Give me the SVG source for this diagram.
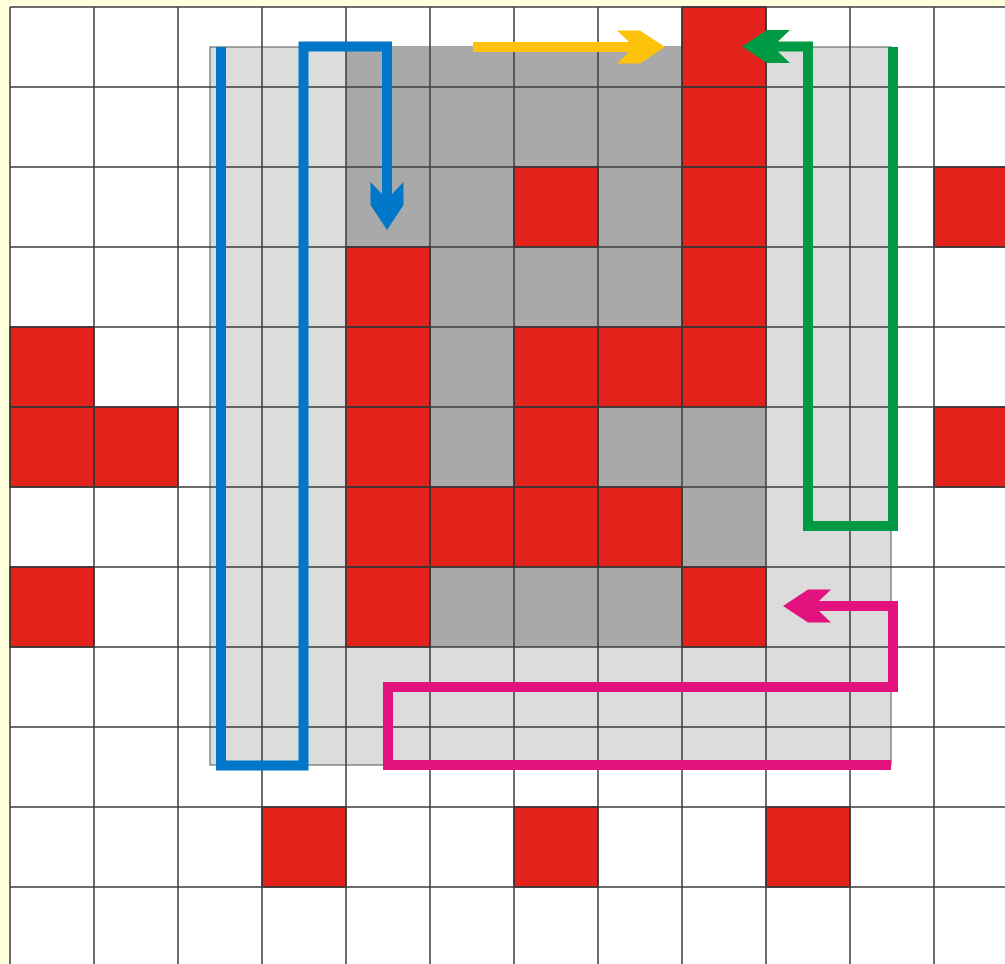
<svg xmlns="http://www.w3.org/2000/svg" width="1005" height="964" viewBox="0 0 1005 964">
<style>
.bg{fill:#FFFFDC}
.paper{fill:#FFFFFF}
.lg{fill:#DCDCDC;stroke:#6E6E6E;stroke-width:1.2}
.dg{fill:#A9A9A9}
.red{fill:#E3231B;stroke:#4A1A14;stroke-width:1.5}
.grid line{stroke:#3C3C3C;stroke-width:1.5}
.path{fill:none;stroke-width:10;stroke-linejoin:miter;stroke-linecap:butt}
</style>
<defs>
<path id="head" d="M-48,-16.5 L-25,-16.5 L0,0 L-25,16.5 L-48,16.5 L-36,5 L-36,-5 Z"/>
<marker id="mBlue" viewBox="-50 -18 52 36" refX="-32" refY="0" markerWidth="52" markerHeight="36" markerUnits="userSpaceOnUse" orient="auto"><use href="#head" fill="#0077C8"/></marker>
<marker id="mYellow" viewBox="-50 -18 52 36" refX="-32" refY="0" markerWidth="52" markerHeight="36" markerUnits="userSpaceOnUse" orient="auto"><use href="#head" fill="#FFC20A"/></marker>
<marker id="mGreen" viewBox="-50 -18 52 36" refX="-32" refY="0" markerWidth="52" markerHeight="36" markerUnits="userSpaceOnUse" orient="auto"><use href="#head" fill="#009A44"/></marker>
<marker id="mPink" viewBox="-50 -18 52 36" refX="-32" refY="0" markerWidth="52" markerHeight="36" markerUnits="userSpaceOnUse" orient="auto"><use href="#head" fill="#E2127F"/></marker>
</defs>
<rect class="bg" x="0" y="0" width="1005" height="964"/>
<rect class="paper" x="10" y="7" width="995" height="957"/>
<g id="region-light">
<rect class="lg" x="210" y="47" width="681" height="718"/>
</g>
<g id="region-dark">
<rect class="dg" x="346" y="47" width="420" height="600"/>
</g>
<g id="red-cells">
<g id="cell-c8r0"><rect class="red" x="682" y="7" width="84" height="80"/></g>
<g id="cell-c8r1"><rect class="red" x="682" y="87" width="84" height="80"/></g>
<g id="cell-c8r2"><rect class="red" x="682" y="167" width="84" height="80"/></g>
<g id="cell-c8r3"><rect class="red" x="682" y="247" width="84" height="80"/></g>
<g id="cell-c8r4"><rect class="red" x="682" y="327" width="84" height="80"/></g>
<g id="cell-c6r2"><rect class="red" x="514" y="167" width="84" height="80"/></g>
<g id="cell-c11r2"><rect class="red" x="934" y="167" width="84" height="80"/></g>
<g id="cell-c4r3"><rect class="red" x="346" y="247" width="84" height="80"/></g>
<g id="cell-c0r4"><rect class="red" x="10" y="327" width="84" height="80"/></g>
<g id="cell-c4r4"><rect class="red" x="346" y="327" width="84" height="80"/></g>
<g id="cell-c6r4"><rect class="red" x="514" y="327" width="84" height="80"/></g>
<g id="cell-c7r4"><rect class="red" x="598" y="327" width="84" height="80"/></g>
<g id="cell-c0r5"><rect class="red" x="10" y="407" width="84" height="80"/></g>
<g id="cell-c1r5"><rect class="red" x="94" y="407" width="84" height="80"/></g>
<g id="cell-c4r5"><rect class="red" x="346" y="407" width="84" height="80"/></g>
<g id="cell-c6r5"><rect class="red" x="514" y="407" width="84" height="80"/></g>
<g id="cell-c11r5"><rect class="red" x="934" y="407" width="84" height="80"/></g>
<g id="cell-c4r6"><rect class="red" x="346" y="487" width="84" height="80"/></g>
<g id="cell-c5r6"><rect class="red" x="430" y="487" width="84" height="80"/></g>
<g id="cell-c6r6"><rect class="red" x="514" y="487" width="84" height="80"/></g>
<g id="cell-c7r6"><rect class="red" x="598" y="487" width="84" height="80"/></g>
<g id="cell-c0r7"><rect class="red" x="10" y="567" width="84" height="80"/></g>
<g id="cell-c4r7"><rect class="red" x="346" y="567" width="84" height="80"/></g>
<g id="cell-c8r7"><rect class="red" x="682" y="567" width="84" height="80"/></g>
<g id="cell-c3r10"><rect class="red" x="262" y="807" width="84" height="80"/></g>
<g id="cell-c6r10"><rect class="red" x="514" y="807" width="84" height="80"/></g>
<g id="cell-c9r10"><rect class="red" x="766" y="807" width="84" height="80"/></g>
</g>
<g id="grid" class="grid">
<line x1="10" y1="7" x2="10" y2="964"/>
<line x1="94" y1="7" x2="94" y2="964"/>
<line x1="178" y1="7" x2="178" y2="964"/>
<line x1="262" y1="7" x2="262" y2="964"/>
<line x1="346" y1="7" x2="346" y2="964"/>
<line x1="430" y1="7" x2="430" y2="964"/>
<line x1="514" y1="7" x2="514" y2="964"/>
<line x1="598" y1="7" x2="598" y2="964"/>
<line x1="682" y1="7" x2="682" y2="964"/>
<line x1="766" y1="7" x2="766" y2="964"/>
<line x1="850" y1="7" x2="850" y2="964"/>
<line x1="934" y1="7" x2="934" y2="964"/>
<line x1="10" y1="7" x2="1005" y2="7"/>
<line x1="10" y1="87" x2="1005" y2="87"/>
<line x1="10" y1="167" x2="1005" y2="167"/>
<line x1="10" y1="247" x2="1005" y2="247"/>
<line x1="10" y1="327" x2="1005" y2="327"/>
<line x1="10" y1="407" x2="1005" y2="407"/>
<line x1="10" y1="487" x2="1005" y2="487"/>
<line x1="10" y1="567" x2="1005" y2="567"/>
<line x1="10" y1="647" x2="1005" y2="647"/>
<line x1="10" y1="727" x2="1005" y2="727"/>
<line x1="10" y1="807" x2="1005" y2="807"/>
<line x1="10" y1="887" x2="1005" y2="887"/>
</g>
<g id="connectors">
<path id="path-blue" class="path" stroke="#0077C8" marker-end="url(#mBlue)" d="M221,47 V765.5 H303.5 V46.5 H387 V198"/>
<path id="path-yellow" class="path" stroke="#FFC20A" marker-end="url(#mYellow)" d="M473,47 H633"/>
<path id="path-green" class="path" stroke="#009A44" marker-end="url(#mGreen)" d="M893,47 V526 H808 V46.5 H774"/>
<path id="path-pink" class="path" stroke="#E2127F" marker-end="url(#mPink)" d="M891,765 H388 V687 H893 V606 H815"/>
</g>
</svg>
